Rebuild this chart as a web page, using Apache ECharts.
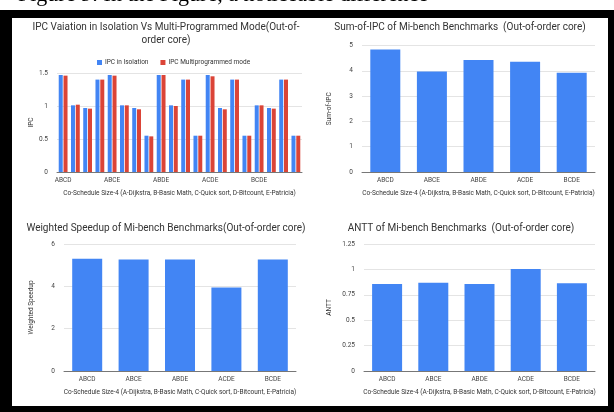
<!DOCTYPE html>
<html>
<head>
<meta charset="utf-8">
<script src="https://cdn.jsdelivr.net/npm/echarts@6/dist/echarts.min.js"></script>
<style>
  html, body { margin: 0; padding: 0; background: #fff; }
  #chart { width: 614px; height: 412px; }
</style>
</head>
<body>
<div id="chart"></div>
<script>
// co-schedule groups and the tasks inside each group
var groups = ['ABCD', 'ABCE', 'ABDE', 'ACDE', 'BCDE'];
var taskCats = [
    'ABCD-A', 'ABCD-B', 'ABCD-C', 'ABCD-D',
    'ABCE-A', 'ABCE-B', 'ABCE-C', 'ABCE-E',
    'ABDE-A', 'ABDE-B', 'ABDE-D', 'ABDE-E',
    'ACDE-A', 'ACDE-C', 'ACDE-D', 'ACDE-E',
    'BCDE-B', 'BCDE-C', 'BCDE-D', 'BCDE-E'
];
var ipcIsolation = [1.47, 1.01, 0.97, 1.40, 1.47, 1.01, 0.97, 0.55, 1.47, 1.01, 1.40, 0.55, 1.47, 0.97, 1.40, 0.55, 1.01, 0.97, 1.40, 0.55];
var ipcMulti = [1.46, 1.02, 0.96, 1.40, 1.46, 1.01, 0.95, 0.54, 1.47, 1.00, 1.40, 0.55, 1.45, 0.95, 1.40, 0.55, 1.01, 0.96, 1.40, 0.55];
var sumIpc = [4.84, 3.97, 4.43, 4.36, 3.92];
var weightedSpeedup = [5.30, 5.27, 5.27, 3.95, 5.27];
var antt = [0.856, 0.869, 0.856, 1.004, 0.863];

var xName = 'Co-Schedule Size-4 (A-Dijkstra, B-Basic Math, C-Quick sort, D-Bitcount, E-Patricia)';
var font = 'Roboto';
var blue = '#4285f4';
var red = '#db4437';

function xAx(idx, data, extra) {
    var a = {
        type: 'category',
        gridIndex: idx,
        data: data,
        name: xName,
        nameLocation: 'middle',
        nameGap: 18,
        nameTextStyle: { fontFamily: font, fontSize: 6.5, color: '#333' },
        axisTick: { show: false },
        axisLine: { lineStyle: { color: '#777' } },
        axisLabel: { fontFamily: font, fontSize: 6.5, color: '#444', margin: 5 }
    };
    if (extra) {
        for (var k in extra) a.axisLabel[k] = extra[k];
    }
    return a;
}

function yAx(idx, name, max, interval, gap) {
    return {
        type: 'value',
        gridIndex: idx,
        min: 0,
        max: max,
        interval: interval,
        name: name,
        nameLocation: 'middle',
        nameRotate: 90,
        nameGap: gap,
        nameTextStyle: { fontFamily: font, fontSize: 6.5, color: '#333' },
        axisLine: { show: false },
        axisTick: { show: false },
        splitLine: { lineStyle: { color: '#e4e4e4' } },
        axisLabel: { fontFamily: font, fontSize: 6.5, color: '#444', margin: 9 }
    };
}

var chart = echarts.init(document.getElementById('chart'));
var option = {
    animation: false,
    legend: {
        left: 92,
        top: 54,
        itemWidth: 5,
        itemHeight: 5,
        itemGap: 12,
        icon: 'rect',
        textStyle: { fontFamily: font, fontSize: 6.5, color: '#333', padding: [0, 0, 0, -2] },
        data: ['IPC in Isolation', 'IPC Multiprogrammed mode']
    },
    grid: [
        { left: 57, right: 312, top: 73, bottom: 240 },
        { left: 362, right: 19, top: 45.5, bottom: 240 },
        { left: 64, right: 318, top: 244, bottom: 41 },
        { left: 364, right: 19, top: 244, bottom: 41 }
    ],
    xAxis: [
        xAx(0, taskCats, { interval: 3, formatter: function (v) { return v.split('-')[0]; } }),
        xAx(1, groups),
        xAx(2, groups),
        xAx(3, groups)
    ],
    yAxis: [
        yAx(0, 'IPC', 1.5, 0.5, 22),
        yAx(1, 'Sum-of-IPC', 5, 1, 29),
        yAx(2, 'Weighted Speedup', 6, 2, 29),
        yAx(3, 'ANTT', 1.25, 0.25, 31)
    ],
    series: [
        { name: 'IPC in Isolation', type: 'bar', xAxisIndex: 0, yAxisIndex: 0, data: ipcIsolation,
          barWidth: 4, barGap: '20%', itemStyle: { color: blue } },
        { name: 'IPC Multiprogrammed mode', type: 'bar', xAxisIndex: 0, yAxisIndex: 0, data: ipcMulti,
          barWidth: 4, barGap: '20%', itemStyle: { color: red } },
        { name: 'Sum-of-IPC', type: 'bar', xAxisIndex: 1, yAxisIndex: 1, data: sumIpc,
          barWidth: 30, itemStyle: { color: blue } },
        { name: 'Weighted Speedup', type: 'bar', xAxisIndex: 2, yAxisIndex: 2, data: weightedSpeedup,
          barWidth: 30, itemStyle: { color: blue } },
        { name: 'ANTT', type: 'bar', xAxisIndex: 3, yAxisIndex: 3, data: antt,
          barWidth: 30, itemStyle: { color: blue } }
    ],
    graphic: [
        { type: 'text', x: 18, y: -5, style: { text: 'Figure 9: In the Figure, a noticeable difference',
          font: '22px "Liberation Serif"', fill: '#000', verticalAlign: 'middle' } },
        { type: 'rect', shape: { x: 0, y: 10, width: 12, height: 402 }, style: { fill: '#000' } },
        { type: 'rect', shape: { x: 0, y: 10, width: 614, height: 8 }, style: { fill: '#000' } },
        { type: 'rect', shape: { x: 608, y: 10, width: 6, height: 402 }, style: { fill: '#000' } },
        { type: 'rect', shape: { x: 0, y: 406, width: 614, height: 6 }, style: { fill: '#000' } },
        { type: 'text', x: 166, y: 27, style: { text: 'IPC Vaiation in Isolation Vs Multi-Programmed Mode(Out-of-',
          font: '10px Roboto', fill: '#333', align: 'center', verticalAlign: 'middle' } },
        { type: 'text', x: 166, y: 40, style: { text: 'order core)',
          font: '10px Roboto', fill: '#333', align: 'center', verticalAlign: 'middle' } },
        { type: 'text', x: 460, y: 27, style: { text: 'Sum-of-IPC of Mi-bench Benchmarks  (Out-of-order core)',
          font: '10px Roboto', fill: '#333', align: 'center', verticalAlign: 'middle' } },
        { type: 'text', x: 166, y: 228, style: { text: 'Weighted Speedup of Mi-bench Benchmarks(Out-of-order core)',
          font: '10px Roboto', fill: '#333', align: 'center', verticalAlign: 'middle' } },
        { type: 'text', x: 461, y: 228, style: { text: 'ANTT of Mi-bench Benchmarks  (Out-of-order core)',
          font: '10px Roboto', fill: '#333', align: 'center', verticalAlign: 'middle' } }
    ]
};
chart.setOption(option);
</script>
</body>
</html>
